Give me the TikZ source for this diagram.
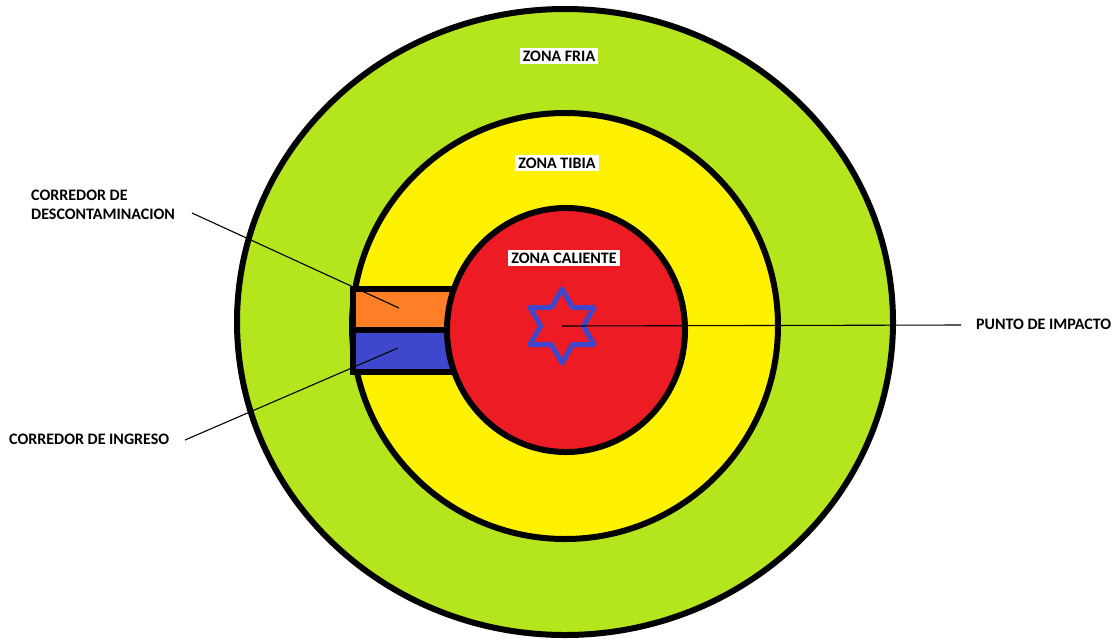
\documentclass[tikz,border=0pt]{standalone}
\usepackage{fontspec}
\setmainfont{Carlito}
\usetikzlibrary{calc}
\definecolor{zgreen}{HTML}{B5E61D}
\definecolor{zyellow}{HTML}{FFF200}
\definecolor{zred}{HTML}{ED1C24}
\definecolor{zorange}{HTML}{FF7F27}
\definecolor{zblue}{HTML}{3F48CC}
\begin{document}
\begin{tikzpicture}[x=1pt,y=-1pt,
  zone/.style={draw=black,line width=6pt},
  zlabel/.style={fill=white,inner xsep=3pt,inner ysep=3pt,font=\fontsize{16}{18}\selectfont\bfseries},
  sidelabel/.style={inner sep=0pt,font=\fontsize{16}{19}\selectfont\bfseries,align=left},
  leader/.style={draw=black,line width=1.1pt}]
\useasboundingbox (0,0) rectangle (1118,638);
\draw[zone,fill=zgreen] (565,322) ellipse [x radius=328, y radius=313];
\draw[zone,fill=zyellow] (565,326) ellipse [x radius=213, y radius=213];
\draw[zone,fill=zorange] (353,289) rectangle (455,330);
\draw[zone,fill=zblue] (353,330) rectangle (455,372);
\draw[zone,fill=zred] (566,330) ellipse [x radius=119, y radius=122];
\coordinate (sc) at (562,326);
\draw[zblue,line width=5pt,line join=round]
  ($(sc)+(90:37)$) \foreach \a in {120,180,...,420} {
    -- ($(sc)+({\a}:{37/sqrt(3)})$) -- ($(sc)+({\a+30}:37)$) } -- cycle;
\node[zlabel] (fria) at (559,56) {ZONA FRIA};
\node[zlabel] (tibia) at (557,163) {ZONA TIBIA};
\node[zlabel] (caliente) at (564,258) {ZONA CALIENTE};
\node[sidelabel,anchor=north west] (desc) at (31,190) {CORREDOR DE\\DESCONTAMINACION};
\node[sidelabel,anchor=west] (ingreso) at (9,439) {CORREDOR DE INGRESO};
\node[sidelabel,anchor=west] (punto) at (976,324) {PUNTO DE IMPACTO};
\coordinate (dstart) at (192,213);
\coordinate (dend) at (399,308);
\coordinate (istart) at (185,440);
\coordinate (iend) at (398,348);
\coordinate (pend) at (961,325);
\draw[leader] (dstart) -- (dend);
\draw[leader] (istart) -- (iend);
\draw[leader] (sc) -- (pend);
\end{tikzpicture}
\end{document}
